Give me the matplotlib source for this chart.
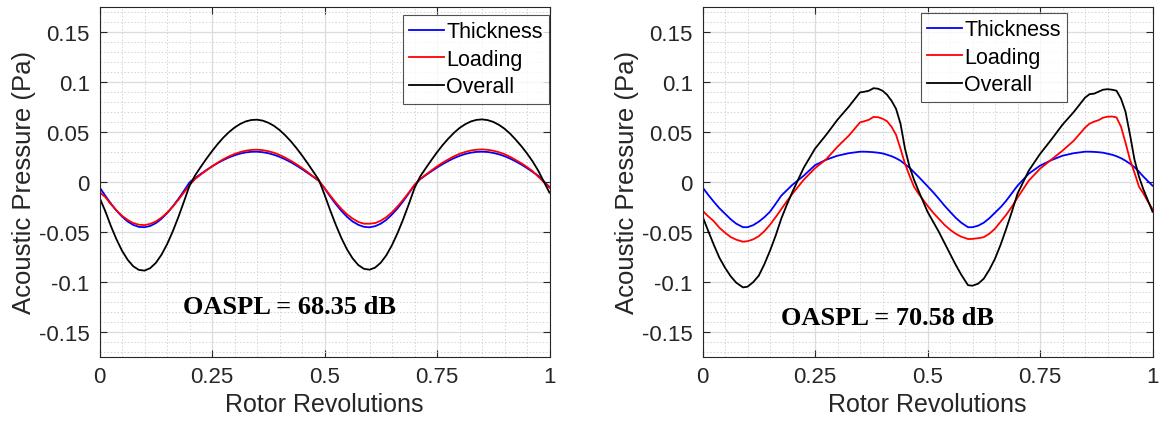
import matplotlib
matplotlib.use("Agg")
import matplotlib.pyplot as plt
from matplotlib.ticker import MultipleLocator

# ---------------- data ----------------
# sample positions (rotor revolutions) of the left panel: every 0.0125 rev
x_left = [round(i * 0.0125, 4) for i in range(81)]

thick_left = [-0.0055, -0.0138, -0.0217, -0.0288, -0.0349, -0.0398, -0.0432, -0.0452, -0.0455, -0.0443,
              -0.0415, -0.0372, -0.0316, -0.0249, -0.0174, -0.0092, -0.0007, 0.0037, 0.0077, 0.0116,
              0.0152, 0.0186, 0.0216, 0.0242, 0.0264, 0.0281, 0.0293, 0.0299, 0.0300, 0.0295,
              0.0285, 0.0269, 0.0249, 0.0224, 0.0195, 0.0162, 0.0126, 0.0088, 0.0049, 0.0008,
              -0.0066, -0.0147, -0.0223, -0.0292, -0.0351, -0.0398, -0.0431, -0.0451, -0.0456, -0.0445,
              -0.0420, -0.0381, -0.0328, -0.0266, -0.0194, -0.0115, -0.0033, 0.0025, 0.0065, 0.0104,
              0.0141, 0.0176, 0.0207, 0.0235, 0.0258, 0.0277, 0.0290, 0.0298, 0.0300, 0.0297,
              0.0288, 0.0274, 0.0255, 0.0231, 0.0203, 0.0171, 0.0136, 0.0098, 0.0059, 0.0003,
              -0.0053]

load_left = [-0.0105, -0.0152, -0.0223, -0.0286, -0.0341, -0.0382, -0.0414, -0.0430, -0.0434, -0.0422,
             -0.0398, -0.0360, -0.0311, -0.0251, -0.0183, -0.0109, -0.0033, 0.0027, 0.0071, 0.0113,
             0.0153, 0.0190, 0.0224, 0.0253, 0.0277, 0.0296, 0.0310, 0.0318, 0.0320, 0.0316,
             0.0305, 0.0290, 0.0268, 0.0241, 0.0210, 0.0175, 0.0137, 0.0096, 0.0052, 0.0009,
             -0.0062, -0.0137, -0.0207, -0.0271, -0.0326, -0.0369, -0.0402, -0.0420, -0.0420, -0.0414,
             -0.0390, -0.0354, -0.0306, -0.0246, -0.0180, -0.0108, -0.0031, 0.0026, 0.0070, 0.0112,
             0.0153, 0.0190, 0.0223, 0.0253, 0.0279, 0.0297, 0.0312, 0.0320, 0.0323, 0.0319,
             0.0310, 0.0295, 0.0275, 0.0249, 0.0217, 0.0184, 0.0147, 0.0105, 0.0050, -0.0003,
             -0.0060]

over_left = [-0.0160, -0.0290, -0.0440, -0.0574, -0.0690, -0.0780, -0.0846, -0.0882, -0.0889, -0.0865,
             -0.0813, -0.0732, -0.0627, -0.0500, -0.0357, -0.0201, -0.0040, 0.0064, 0.0148, 0.0229,
             0.0305, 0.0376, 0.0440, 0.0495, 0.0541, 0.0577, 0.0603, 0.0617, 0.0620, 0.0611,
             0.0590, 0.0559, 0.0517, 0.0465, 0.0405, 0.0337, 0.0263, 0.0184, 0.0101, 0.0017,
             -0.0128, -0.0284, -0.0430, -0.0563, -0.0677, -0.0767, -0.0833, -0.0871, -0.0880, -0.0859,
             -0.0810, -0.0735, -0.0634, -0.0512, -0.0374, -0.0223, -0.0064, 0.0051, 0.0135, 0.0216,
             0.0294, 0.0366, 0.0430, 0.0488, 0.0537, 0.0574, 0.0602, 0.0618, 0.0623, 0.0616,
             0.0598, 0.0569, 0.0530, 0.0480, 0.0420, 0.0355, 0.0283, 0.0203, 0.0110, 0.0000,
             -0.0110]

x_right = [0.0, 0.0125, 0.025, 0.0375, 0.05, 0.0625, 0.075, 0.09, 0.1, 0.1125,
           0.125, 0.1375, 0.15, 0.1625, 0.175, 0.1875, 0.2, 0.225, 0.25, 0.275,
           0.3, 0.325, 0.35, 0.36, 0.37, 0.38, 0.39, 0.4, 0.41, 0.42,
           0.43, 0.44, 0.45, 0.46, 0.47, 0.48, 0.5, 0.5125, 0.525, 0.5375,
           0.55, 0.5625, 0.575, 0.59, 0.6, 0.6125, 0.625, 0.6375, 0.65, 0.6625,
           0.675, 0.6875, 0.7, 0.725, 0.75, 0.775, 0.8, 0.825, 0.85, 0.86,
           0.87, 0.88, 0.89, 0.9, 0.91, 0.92, 0.93, 0.94, 0.95, 0.96,
           0.97, 0.98, 0.99, 1.0]

thick_right = [-0.0056, -0.0130, -0.0200, -0.0265, -0.0320, -0.0375, -0.0420, -0.0455, -0.0455, -0.0435,
               -0.0400, -0.0355, -0.0300, -0.0222, -0.0140, -0.0085, -0.0030, 0.0060, 0.0165, 0.0220,
               0.0260, 0.0285, 0.0300, 0.0300, 0.0298, 0.0295, 0.0290, 0.0283, 0.0270, 0.0255,
               0.0235, 0.0210, 0.0175, 0.0140, 0.0095, 0.0050, -0.0045, -0.0105, -0.0170, -0.0238,
               -0.0300, -0.0360, -0.0410, -0.0455, -0.0455, -0.0440, -0.0410, -0.0365, -0.0310, -0.0255,
               -0.0190, -0.0115, -0.0040, 0.0080, 0.0160, 0.0215, 0.0260, 0.0285, 0.0300, 0.0300,
               0.0298, 0.0295, 0.0290, 0.0280, 0.0270, 0.0255, 0.0235, 0.0210, 0.0180, 0.0145,
               0.0100, 0.0050, 0.0005, -0.0040]

load_right = [-0.0290, -0.0345, -0.0395, -0.0460, -0.0510, -0.0553, -0.0580, -0.0600, -0.0595, -0.0577,
              -0.0545, -0.0495, -0.0430, -0.0355, -0.0275, -0.0195, -0.0120, 0.0020, 0.0135, 0.0225,
              0.0350, 0.0460, 0.0593, 0.0605, 0.0620, 0.0648, 0.0645, 0.0630, 0.0605, 0.0550,
              0.0470, 0.0330, 0.0180, 0.0060, -0.0050, -0.0120, -0.0240, -0.0310, -0.0370, -0.0430,
              -0.0480, -0.0520, -0.0550, -0.0573, -0.0572, -0.0565, -0.0555, -0.0520, -0.0470, -0.0400,
              -0.0330, -0.0250, -0.0160, 0.0010, 0.0130, 0.0220, 0.0310, 0.0410, 0.0540, 0.0580,
              0.0600, 0.0615, 0.0640, 0.0650, 0.0652, 0.0643, 0.0550, 0.0390, 0.0220, 0.0090,
              -0.0050, -0.0120, -0.0200, -0.0273]

over_right = [-0.0347, -0.0490, -0.0630, -0.0760, -0.0860, -0.0945, -0.1010, -0.1057, -0.1050, -0.1005,
              -0.0940, -0.0825, -0.0690, -0.0540, -0.0370, -0.0230, -0.0100, 0.0140, 0.0330, 0.0470,
              0.0620, 0.0750, 0.0893, 0.0900, 0.0910, 0.0935, 0.0930, 0.0910, 0.0870, 0.0810,
              0.0730, 0.0580, 0.0330, 0.0150, 0.0020, -0.0090, -0.0300, -0.0400, -0.0500, -0.0610,
              -0.0720, -0.0830, -0.0930, -0.1035, -0.1040, -0.1020, -0.0970, -0.0880, -0.0770, -0.0630,
              -0.0470, -0.0300, -0.0120, 0.0110, 0.0277, 0.0420, 0.0570, 0.0697, 0.0840, 0.0875,
              0.0880, 0.0900, 0.0920, 0.0925, 0.0920, 0.0910, 0.0830, 0.0700, 0.0470, 0.0220,
              0.0050, -0.0080, -0.0190, -0.0300]

series_names = ["Thickness", "Loading", "Overall"]
oaspl_labels = ["OASPL = 68.35 dB", "OASPL = 70.58 dB"]
x_ticks = [0, 0.25, 0.5, 0.75, 1]
x_tick_labels = ["0", "0.25", "0.5", "0.75", "1"]
y_ticks = [-0.15, -0.1, -0.05, 0, 0.05, 0.1, 0.15]
y_tick_labels = ["-0.15", "-0.1", "-0.05", "0", "0.05", "0.1", "0.15"]

# ---------------- drawing ----------------
plt.rcParams['font.family'] = ['Liberation Sans', 'DejaVu Sans']
fig = plt.figure(figsize=(11.61, 4.27), dpi=100)

W, H = 1161, 427
ax_l = fig.add_axes([99.5 / W, 1 - 357.7 / H, 450 / W, 350 / H])
ax_r = fig.add_axes([702.5 / W, 1 - 357.7 / H, 450 / W, 350 / H])

colors = ["#0000ff", "#ff0000", "#000000"]
spine_c = "#262626"

panels = [
    (ax_l, x_left, [thick_left, load_left, over_left], oaspl_labels[0], (0.423, -0.125),
     (403 / W, 1 - 16 / H)),
    (ax_r, x_right, [thick_right, load_right, over_right], oaspl_labels[1], (0.412, -0.136),
     (921 / W, 1 - 14 / H)),
]

for ax, xs, ys, lab, tpos, lpos in panels:
    handles = []
    for y, c, n in zip(ys, colors, series_names):
        h, = ax.plot(xs, y, color=c, lw=1.3, label=n)
        handles.append(h)
    ax.set_xlim(0, 1)
    ax.set_ylim(-0.175, 0.175)
    ax.set_xticks(x_ticks)
    ax.set_xticklabels(x_tick_labels)
    ax.set_yticks(y_ticks)
    ax.set_yticklabels(y_tick_labels)
    ax.xaxis.set_minor_locator(MultipleLocator(0.05))
    ax.yaxis.set_minor_locator(MultipleLocator(0.01))
    ax.grid(which='major', color='#dcdcdc', lw=0.9, ls='-')
    ax.grid(which='minor', color='#d4d4d4', lw=0.7, ls=(0, (1.5, 2)))
    ax.set_axisbelow(True)
    ax.tick_params(which='both', direction='in', top=True, right=True,
                   colors=spine_c, labelsize=16, labelcolor=spine_c)
    ax.tick_params(which='major', length=5, width=0.8, pad=7)
    ax.tick_params(which='minor', length=0)
    for s in ax.spines.values():
        s.set_color(spine_c)
        s.set_linewidth(0.8)
    ax.set_xlabel("Rotor Revolutions", fontsize=18, color=spine_c, labelpad=3)
    ax.set_ylabel("Acoustic Pressure (Pa)", fontsize=18.5, color=spine_c, labelpad=2)
    ax.text(tpos[0], tpos[1], lab, fontsize=19, fontweight='bold',
            family=['Liberation Serif', 'DejaVu Serif'], ha='center', va='center')
    leg = ax.legend(handles=handles, loc='upper left', bbox_to_anchor=lpos,
                    bbox_transform=fig.transFigure, fontsize=15.5, frameon=True,
                    fancybox=False, edgecolor=spine_c, handlelength=1.6,
                    handletextpad=0.1, borderpad=0.3, labelspacing=0.3,
                    borderaxespad=0)
    leg.get_frame().set_linewidth(0.8)

fig.savefig("out.png", dpi=100)
